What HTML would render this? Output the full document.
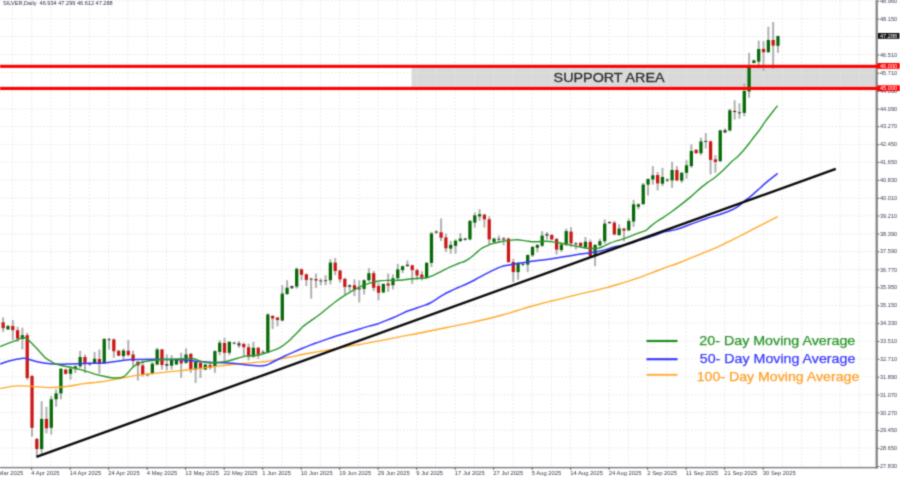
<!DOCTYPE html>
<html><head><meta charset="utf-8"><title>SILVER Daily</title>
<style>
html,body{margin:0;padding:0;background:#fff;}
body{width:900px;height:477px;overflow:hidden;font-family:"Liberation Sans",sans-serif;}
svg{display:block;}
text{font-family:"Liberation Sans",sans-serif;}
</style></head><body>
<svg width="900" height="477" viewBox="0 0 900 477">
<defs><filter id="b" x="0" y="0" width="100%" height="100%" filterUnits="objectBoundingBox" color-interpolation-filters="sRGB"><feConvolveMatrix order="5" kernelMatrix="0.00001 0.00062 0.00227 0.00062 0.00001 0.00062 0.03065 0.11253 0.03065 0.00062 0.00227 0.11253 0.41321 0.11253 0.00227 0.00062 0.03065 0.11253 0.03065 0.00062 0.00001 0.00062 0.00227 0.00062 0.00001" edgeMode="duplicate" preserveAlpha="true"/></filter></defs>
<rect x="0" y="0" width="900" height="477" fill="#ffffff"/>
<g filter="url(#b)">
<rect x="-10" y="-10" width="920" height="497" fill="#ffffff"/>
<g stroke="#e3e3e3" stroke-width="0.9" stroke-dasharray="1.5 2.1" fill="none">
<line x1="0" y1="448.1" x2="876.7" y2="448.1"/>
<line x1="0" y1="430.3" x2="876.7" y2="430.3"/>
<line x1="0" y1="412.6" x2="876.7" y2="412.6"/>
<line x1="0" y1="394.7" x2="876.7" y2="394.7"/>
<line x1="0" y1="376.9" x2="876.7" y2="376.9"/>
<line x1="0" y1="359.0" x2="876.7" y2="359.0"/>
<line x1="0" y1="341.2" x2="876.7" y2="341.2"/>
<line x1="0" y1="323.2" x2="876.7" y2="323.2"/>
<line x1="0" y1="305.5" x2="876.7" y2="305.5"/>
<line x1="0" y1="287.4" x2="876.7" y2="287.4"/>
<line x1="0" y1="269.6" x2="876.7" y2="269.6"/>
<line x1="0" y1="251.5" x2="876.7" y2="251.5"/>
<line x1="0" y1="233.8" x2="876.7" y2="233.8"/>
<line x1="0" y1="215.7" x2="876.7" y2="215.7"/>
<line x1="0" y1="198.0" x2="876.7" y2="198.0"/>
<line x1="0" y1="180.0" x2="876.7" y2="180.0"/>
<line x1="0" y1="162.1" x2="876.7" y2="162.1"/>
<line x1="0" y1="144.4" x2="876.7" y2="144.4"/>
<line x1="0" y1="126.5" x2="876.7" y2="126.5"/>
<line x1="0" y1="108.8" x2="876.7" y2="108.8"/>
<line x1="0" y1="91.0" x2="876.7" y2="91.0"/>
<line x1="0" y1="72.9" x2="876.7" y2="72.9"/>
<line x1="0" y1="54.6" x2="876.7" y2="54.6"/>
<line x1="0" y1="36.5" x2="876.7" y2="36.5"/>
<line x1="0" y1="18.8" x2="876.7" y2="18.8"/>
<line x1="0" y1="0.8" x2="876.7" y2="0.8"/>
<line x1="12.40" y1="0" x2="12.40" y2="467.6"/>
<line x1="31.65" y1="0" x2="31.65" y2="467.6"/>
<line x1="50.90" y1="0" x2="50.90" y2="467.6"/>
<line x1="70.15" y1="0" x2="70.15" y2="467.6"/>
<line x1="89.40" y1="0" x2="89.40" y2="467.6"/>
<line x1="108.65" y1="0" x2="108.65" y2="467.6"/>
<line x1="127.90" y1="0" x2="127.90" y2="467.6"/>
<line x1="147.15" y1="0" x2="147.15" y2="467.6"/>
<line x1="166.40" y1="0" x2="166.40" y2="467.6"/>
<line x1="185.65" y1="0" x2="185.65" y2="467.6"/>
<line x1="204.90" y1="0" x2="204.90" y2="467.6"/>
<line x1="224.15" y1="0" x2="224.15" y2="467.6"/>
<line x1="243.40" y1="0" x2="243.40" y2="467.6"/>
<line x1="262.65" y1="0" x2="262.65" y2="467.6"/>
<line x1="281.90" y1="0" x2="281.90" y2="467.6"/>
<line x1="301.15" y1="0" x2="301.15" y2="467.6"/>
<line x1="320.40" y1="0" x2="320.40" y2="467.6"/>
<line x1="339.65" y1="0" x2="339.65" y2="467.6"/>
<line x1="358.90" y1="0" x2="358.90" y2="467.6"/>
<line x1="378.15" y1="0" x2="378.15" y2="467.6"/>
<line x1="397.40" y1="0" x2="397.40" y2="467.6"/>
<line x1="416.65" y1="0" x2="416.65" y2="467.6"/>
<line x1="435.90" y1="0" x2="435.90" y2="467.6"/>
<line x1="455.15" y1="0" x2="455.15" y2="467.6"/>
<line x1="474.40" y1="0" x2="474.40" y2="467.6"/>
<line x1="493.65" y1="0" x2="493.65" y2="467.6"/>
<line x1="512.90" y1="0" x2="512.90" y2="467.6"/>
<line x1="532.15" y1="0" x2="532.15" y2="467.6"/>
<line x1="551.40" y1="0" x2="551.40" y2="467.6"/>
<line x1="570.65" y1="0" x2="570.65" y2="467.6"/>
<line x1="589.90" y1="0" x2="589.90" y2="467.6"/>
<line x1="609.15" y1="0" x2="609.15" y2="467.6"/>
<line x1="628.40" y1="0" x2="628.40" y2="467.6"/>
<line x1="647.65" y1="0" x2="647.65" y2="467.6"/>
<line x1="666.90" y1="0" x2="666.90" y2="467.6"/>
<line x1="686.15" y1="0" x2="686.15" y2="467.6"/>
<line x1="705.40" y1="0" x2="705.40" y2="467.6"/>
<line x1="724.65" y1="0" x2="724.65" y2="467.6"/>
<line x1="743.90" y1="0" x2="743.90" y2="467.6"/>
<line x1="763.15" y1="0" x2="763.15" y2="467.6"/>
<line x1="782.40" y1="0" x2="782.40" y2="467.6"/>
<line x1="801.65" y1="0" x2="801.65" y2="467.6"/>
<line x1="820.90" y1="0" x2="820.90" y2="467.6"/>
<line x1="840.15" y1="0" x2="840.15" y2="467.6"/>
<line x1="859.40" y1="0" x2="859.40" y2="467.6"/>
</g>
<rect x="411.6" y="67" width="464.6" height="21" fill="#d9d9d9"/>
<g stroke="#e8e8e8" stroke-width="0.9" stroke-dasharray="1.5 2.1" fill="none">
<line x1="416.65" y1="68" x2="416.65" y2="87"/>
<line x1="435.90" y1="68" x2="435.90" y2="87"/>
<line x1="455.15" y1="68" x2="455.15" y2="87"/>
<line x1="474.40" y1="68" x2="474.40" y2="87"/>
<line x1="493.65" y1="68" x2="493.65" y2="87"/>
<line x1="512.90" y1="68" x2="512.90" y2="87"/>
<line x1="532.15" y1="68" x2="532.15" y2="87"/>
<line x1="551.40" y1="68" x2="551.40" y2="87"/>
<line x1="570.65" y1="68" x2="570.65" y2="87"/>
<line x1="589.90" y1="68" x2="589.90" y2="87"/>
<line x1="609.15" y1="68" x2="609.15" y2="87"/>
<line x1="628.40" y1="68" x2="628.40" y2="87"/>
<line x1="647.65" y1="68" x2="647.65" y2="87"/>
<line x1="666.90" y1="68" x2="666.90" y2="87"/>
<line x1="686.15" y1="68" x2="686.15" y2="87"/>
<line x1="705.40" y1="68" x2="705.40" y2="87"/>
<line x1="724.65" y1="68" x2="724.65" y2="87"/>
<line x1="743.90" y1="68" x2="743.90" y2="87"/>
<line x1="763.15" y1="68" x2="763.15" y2="87"/>
<line x1="782.40" y1="68" x2="782.40" y2="87"/>
<line x1="801.65" y1="68" x2="801.65" y2="87"/>
<line x1="820.90" y1="68" x2="820.90" y2="87"/>
<line x1="840.15" y1="68" x2="840.15" y2="87"/>
<line x1="859.40" y1="68" x2="859.40" y2="87"/>
<line x1="412" y1="72.9" x2="876.7" y2="72.9"/>
</g>
<g>
<line x1="3.15" y1="317.3" x2="3.15" y2="332.2" stroke="#b0b0b0" stroke-width="2.0"/><rect x="1.52" y="322.3" width="3.25" height="5.9" fill="#cc1414"/>
<line x1="7.96" y1="325.0" x2="7.96" y2="330.0" stroke="#b0b0b0" stroke-width="2.0"/><rect x="6.34" y="326.0" width="3.25" height="3.4" fill="#046804"/>
<line x1="12.78" y1="320.0" x2="12.78" y2="340.0" stroke="#b0b0b0" stroke-width="2.0"/><rect x="11.15" y="326.0" width="3.25" height="4.2" fill="#cc1414"/>
<line x1="17.59" y1="326.8" x2="17.59" y2="342.0" stroke="#b0b0b0" stroke-width="2.0"/><rect x="15.96" y="330.2" width="3.25" height="8.4" fill="#cc1414"/>
<line x1="22.40" y1="327.7" x2="22.40" y2="349.5" stroke="#b0b0b0" stroke-width="2.0"/><rect x="20.77" y="335.2" width="3.25" height="3.8" fill="#046804"/>
<line x1="27.21" y1="332.7" x2="27.21" y2="380.0" stroke="#b0b0b0" stroke-width="2.0"/><rect x="25.59" y="335.2" width="3.25" height="42.8" fill="#cc1414"/>
<line x1="32.02" y1="375.0" x2="32.02" y2="436.7" stroke="#b0b0b0" stroke-width="2.0"/><rect x="30.40" y="376.0" width="3.25" height="51.8" fill="#cc1414"/>
<line x1="36.84" y1="437.9" x2="36.84" y2="456.3" stroke="#b0b0b0" stroke-width="2.0"/><rect x="35.21" y="439.0" width="3.25" height="10.1" fill="#cc1414"/>
<line x1="41.65" y1="401.3" x2="41.65" y2="453.8" stroke="#b0b0b0" stroke-width="2.0"/><rect x="40.02" y="418.9" width="3.25" height="30.2" fill="#046804"/>
<line x1="46.46" y1="406.8" x2="46.46" y2="433.4" stroke="#b0b0b0" stroke-width="2.0"/><rect x="44.84" y="418.9" width="3.25" height="9.4" fill="#cc1414"/>
<line x1="51.27" y1="396.0" x2="51.27" y2="434.5" stroke="#b0b0b0" stroke-width="2.0"/><rect x="49.65" y="399.3" width="3.25" height="28.5" fill="#046804"/>
<line x1="56.09" y1="389.2" x2="56.09" y2="406.8" stroke="#b0b0b0" stroke-width="2.0"/><rect x="54.46" y="393.4" width="3.25" height="5.9" fill="#046804"/>
<line x1="60.90" y1="368.0" x2="60.90" y2="399.3" stroke="#b0b0b0" stroke-width="2.0"/><rect x="59.27" y="368.8" width="3.25" height="24.6" fill="#046804"/>
<line x1="65.71" y1="368.8" x2="65.71" y2="374.6" stroke="#b0b0b0" stroke-width="2.0"/><rect x="64.09" y="369.6" width="3.25" height="4.2" fill="#cc1414"/>
<line x1="70.53" y1="366.3" x2="70.53" y2="379.7" stroke="#b0b0b0" stroke-width="2.0"/><rect x="68.90" y="368.8" width="3.25" height="5.0" fill="#046804"/>
<line x1="75.34" y1="365.4" x2="75.34" y2="373.0" stroke="#b0b0b0" stroke-width="2.0"/><rect x="73.71" y="366.3" width="3.25" height="2.8" fill="#046804"/>
<line x1="80.15" y1="350.8" x2="80.15" y2="368.0" stroke="#b0b0b0" stroke-width="2.0"/><rect x="78.53" y="357.0" width="3.25" height="9.3" fill="#046804"/>
<line x1="84.96" y1="354.5" x2="84.96" y2="373.0" stroke="#b0b0b0" stroke-width="2.0"/><rect x="83.34" y="357.0" width="3.25" height="5.9" fill="#cc1414"/>
<line x1="89.78" y1="362.0" x2="89.78" y2="365.8" stroke="#b0b0b0" stroke-width="2.0"/><rect x="88.23" y="363.3" width="3.1" height="1.2" fill="#3c463c"/>
<line x1="94.59" y1="352.0" x2="94.59" y2="363.8" stroke="#b0b0b0" stroke-width="2.0"/><rect x="92.96" y="358.7" width="3.25" height="4.2" fill="#046804"/>
<line x1="99.40" y1="349.5" x2="99.40" y2="373.8" stroke="#b0b0b0" stroke-width="2.0"/><rect x="97.78" y="359.0" width="3.25" height="4.4" fill="#cc1414"/>
<line x1="104.21" y1="338.3" x2="104.21" y2="363.8" stroke="#b0b0b0" stroke-width="2.0"/><rect x="102.59" y="338.9" width="3.25" height="24.5" fill="#046804"/>
<line x1="109.03" y1="337.8" x2="109.03" y2="349.5" stroke="#b0b0b0" stroke-width="2.0"/><rect x="107.48" y="339.2" width="3.1" height="1.0" fill="#3c463c"/>
<line x1="113.84" y1="338.6" x2="113.84" y2="357.9" stroke="#b0b0b0" stroke-width="2.0"/><rect x="112.21" y="339.4" width="3.25" height="11.8" fill="#cc1414"/>
<line x1="118.65" y1="350.3" x2="118.65" y2="356.2" stroke="#b0b0b0" stroke-width="2.0"/><rect x="117.03" y="350.7" width="3.25" height="5.0" fill="#cc1414"/>
<line x1="123.46" y1="348.6" x2="123.46" y2="360.3" stroke="#b0b0b0" stroke-width="2.0"/><rect x="121.84" y="350.5" width="3.25" height="5.6" fill="#046804"/>
<line x1="128.28" y1="340.2" x2="128.28" y2="356.5" stroke="#b0b0b0" stroke-width="2.0"/><rect x="126.65" y="350.8" width="3.25" height="4.2" fill="#cc1414"/>
<line x1="133.09" y1="350.6" x2="133.09" y2="367.5" stroke="#b0b0b0" stroke-width="2.0"/><rect x="131.46" y="354.5" width="3.25" height="6.5" fill="#cc1414"/>
<line x1="137.90" y1="360.8" x2="137.90" y2="380.5" stroke="#b0b0b0" stroke-width="2.0"/><rect x="136.28" y="361.8" width="3.25" height="3.6" fill="#cc1414"/>
<line x1="142.71" y1="360.3" x2="142.71" y2="376.6" stroke="#b0b0b0" stroke-width="2.0"/><rect x="141.09" y="365.4" width="3.25" height="8.8" fill="#cc1414"/>
<line x1="147.53" y1="373.4" x2="147.53" y2="376.3" stroke="#b0b0b0" stroke-width="2.0"/><rect x="145.97" y="374.3" width="3.1" height="1.0" fill="#3c463c"/>
<line x1="152.34" y1="362.0" x2="152.34" y2="374.6" stroke="#b0b0b0" stroke-width="2.0"/><rect x="150.71" y="363.7" width="3.25" height="10.1" fill="#046804"/>
<line x1="157.15" y1="347.8" x2="157.15" y2="365.4" stroke="#b0b0b0" stroke-width="2.0"/><rect x="155.53" y="349.4" width="3.25" height="15.1" fill="#046804"/>
<line x1="161.96" y1="349.0" x2="161.96" y2="369.6" stroke="#b0b0b0" stroke-width="2.0"/><rect x="160.34" y="349.4" width="3.25" height="15.6" fill="#cc1414"/>
<line x1="166.78" y1="354.5" x2="166.78" y2="370.4" stroke="#b0b0b0" stroke-width="2.0"/><rect x="165.22" y="364.0" width="3.1" height="1.7" fill="#3c463c"/>
<line x1="171.59" y1="355.3" x2="171.59" y2="369.6" stroke="#b0b0b0" stroke-width="2.0"/><rect x="169.96" y="359.5" width="3.25" height="6.2" fill="#046804"/>
<line x1="176.40" y1="358.7" x2="176.40" y2="365.0" stroke="#b0b0b0" stroke-width="2.0"/><rect x="174.78" y="359.5" width="3.25" height="5.0" fill="#046804"/>
<line x1="181.21" y1="352.8" x2="181.21" y2="378.0" stroke="#b0b0b0" stroke-width="2.0"/><rect x="179.59" y="360.3" width="3.25" height="3.1" fill="#cc1414"/>
<line x1="186.03" y1="348.3" x2="186.03" y2="363.7" stroke="#b0b0b0" stroke-width="2.0"/><rect x="184.40" y="354.5" width="3.25" height="8.4" fill="#046804"/>
<line x1="190.84" y1="352.8" x2="190.84" y2="372.9" stroke="#b0b0b0" stroke-width="2.0"/><rect x="189.21" y="354.0" width="3.25" height="15.6" fill="#cc1414"/>
<line x1="195.65" y1="361.2" x2="195.65" y2="383.0" stroke="#b0b0b0" stroke-width="2.0"/><rect x="194.03" y="362.0" width="3.25" height="7.6" fill="#046804"/>
<line x1="200.46" y1="362.0" x2="200.46" y2="378.0" stroke="#b0b0b0" stroke-width="2.0"/><rect x="198.84" y="362.9" width="3.25" height="5.8" fill="#cc1414"/>
<line x1="205.28" y1="363.7" x2="205.28" y2="370.0" stroke="#b0b0b0" stroke-width="2.0"/><rect x="203.65" y="364.5" width="3.25" height="5.1" fill="#046804"/>
<line x1="210.09" y1="361.7" x2="210.09" y2="369.6" stroke="#b0b0b0" stroke-width="2.0"/><rect x="208.46" y="365.0" width="3.25" height="2.9" fill="#cc1414"/>
<line x1="214.90" y1="350.3" x2="214.90" y2="372.9" stroke="#b0b0b0" stroke-width="2.0"/><rect x="213.28" y="351.1" width="3.25" height="15.9" fill="#046804"/>
<line x1="219.71" y1="340.2" x2="219.71" y2="355.3" stroke="#b0b0b0" stroke-width="2.0"/><rect x="218.09" y="342.7" width="3.25" height="9.2" fill="#046804"/>
<line x1="224.53" y1="337.7" x2="224.53" y2="361.2" stroke="#b0b0b0" stroke-width="2.0"/><rect x="222.90" y="343.0" width="3.25" height="9.8" fill="#cc1414"/>
<line x1="229.34" y1="341.0" x2="229.34" y2="355.3" stroke="#b0b0b0" stroke-width="2.0"/><rect x="227.71" y="341.9" width="3.25" height="10.9" fill="#046804"/>
<line x1="234.15" y1="341.9" x2="234.15" y2="344.4" stroke="#b0b0b0" stroke-width="2.0"/><rect x="232.60" y="342.6" width="3.1" height="1.0" fill="#3c463c"/>
<line x1="238.96" y1="341.0" x2="238.96" y2="347.8" stroke="#b0b0b0" stroke-width="2.0"/><rect x="237.41" y="343.2" width="3.1" height="2.4" fill="#3c463c"/>
<line x1="243.78" y1="342.7" x2="243.78" y2="356.1" stroke="#b0b0b0" stroke-width="2.0"/><rect x="242.15" y="344.0" width="3.25" height="3.2" fill="#cc1414"/>
<line x1="248.59" y1="343.6" x2="248.59" y2="360.3" stroke="#b0b0b0" stroke-width="2.0"/><rect x="246.96" y="347.2" width="3.25" height="9.4" fill="#cc1414"/>
<line x1="253.40" y1="341.9" x2="253.40" y2="357.8" stroke="#b0b0b0" stroke-width="2.0"/><rect x="251.78" y="347.8" width="3.25" height="8.8" fill="#046804"/>
<line x1="258.21" y1="346.9" x2="258.21" y2="358.7" stroke="#b0b0b0" stroke-width="2.0"/><rect x="256.59" y="347.8" width="3.25" height="6.7" fill="#cc1414"/>
<line x1="263.02" y1="350.3" x2="263.02" y2="353.6" stroke="#b0b0b0" stroke-width="2.0"/><rect x="261.47" y="351.8" width="3.1" height="1.0" fill="#3c463c"/>
<line x1="267.84" y1="313.4" x2="267.84" y2="353.3" stroke="#b0b0b0" stroke-width="2.0"/><rect x="266.21" y="314.4" width="3.25" height="38.4" fill="#046804"/>
<line x1="272.65" y1="315.0" x2="272.65" y2="329.0" stroke="#b0b0b0" stroke-width="2.0"/><rect x="271.02" y="316.0" width="3.25" height="2.5" fill="#cc1414"/>
<line x1="277.46" y1="316.8" x2="277.46" y2="326.3" stroke="#b0b0b0" stroke-width="2.0"/><rect x="275.84" y="317.6" width="3.25" height="2.4" fill="#cc1414"/>
<line x1="282.27" y1="285.2" x2="282.27" y2="321.3" stroke="#b0b0b0" stroke-width="2.0"/><rect x="280.65" y="293.6" width="3.25" height="26.9" fill="#046804"/>
<line x1="287.09" y1="280.2" x2="287.09" y2="295.0" stroke="#b0b0b0" stroke-width="2.0"/><rect x="285.46" y="287.8" width="3.25" height="6.2" fill="#046804"/>
<line x1="291.90" y1="285.6" x2="291.90" y2="288.6" stroke="#b0b0b0" stroke-width="2.0"/><rect x="290.35" y="286.0" width="3.1" height="2.3" fill="#3c463c"/>
<line x1="296.71" y1="267.6" x2="296.71" y2="288.6" stroke="#b0b0b0" stroke-width="2.0"/><rect x="295.09" y="268.8" width="3.25" height="17.8" fill="#046804"/>
<line x1="301.52" y1="268.5" x2="301.52" y2="280.2" stroke="#b0b0b0" stroke-width="2.0"/><rect x="299.90" y="269.3" width="3.25" height="5.5" fill="#cc1414"/>
<line x1="306.34" y1="273.5" x2="306.34" y2="286.0" stroke="#b0b0b0" stroke-width="2.0"/><rect x="304.71" y="274.3" width="3.25" height="5.6" fill="#cc1414"/>
<line x1="311.15" y1="277.7" x2="311.15" y2="298.7" stroke="#b0b0b0" stroke-width="2.0"/><rect x="309.60" y="278.6" width="3.1" height="1.0" fill="#3c463c"/>
<line x1="315.96" y1="273.5" x2="315.96" y2="287.8" stroke="#b0b0b0" stroke-width="2.0"/><rect x="314.34" y="279.0" width="3.25" height="1.5" fill="#cc1414"/>
<line x1="320.77" y1="278.5" x2="320.77" y2="285.2" stroke="#b0b0b0" stroke-width="2.0"/><rect x="319.22" y="280.4" width="3.1" height="1.0" fill="#3c463c"/>
<line x1="325.59" y1="275.2" x2="325.59" y2="285.2" stroke="#b0b0b0" stroke-width="2.0"/><rect x="324.04" y="280.2" width="3.1" height="1.0" fill="#3c463c"/>
<line x1="330.40" y1="259.2" x2="330.40" y2="284.4" stroke="#b0b0b0" stroke-width="2.0"/><rect x="328.77" y="262.6" width="3.25" height="17.6" fill="#046804"/>
<line x1="335.21" y1="258.0" x2="335.21" y2="275.2" stroke="#b0b0b0" stroke-width="2.0"/><rect x="333.59" y="262.6" width="3.25" height="8.4" fill="#cc1414"/>
<line x1="340.02" y1="269.8" x2="340.02" y2="282.7" stroke="#b0b0b0" stroke-width="2.0"/><rect x="338.40" y="270.5" width="3.25" height="8.9" fill="#cc1414"/>
<line x1="344.84" y1="277.7" x2="344.84" y2="294.5" stroke="#b0b0b0" stroke-width="2.0"/><rect x="343.21" y="278.9" width="3.25" height="8.0" fill="#cc1414"/>
<line x1="349.65" y1="284.4" x2="349.65" y2="291.1" stroke="#b0b0b0" stroke-width="2.0"/><rect x="348.10" y="285.2" width="3.1" height="1.7" fill="#3c463c"/>
<line x1="354.46" y1="279.4" x2="354.46" y2="296.1" stroke="#b0b0b0" stroke-width="2.0"/><rect x="352.84" y="285.2" width="3.25" height="4.2" fill="#cc1414"/>
<line x1="359.27" y1="280.2" x2="359.27" y2="302.3" stroke="#b0b0b0" stroke-width="2.0"/><rect x="357.72" y="288.3" width="3.1" height="1.2" fill="#3c463c"/>
<line x1="364.09" y1="279.4" x2="364.09" y2="294.5" stroke="#b0b0b0" stroke-width="2.0"/><rect x="362.46" y="280.2" width="3.25" height="8.7" fill="#046804"/>
<line x1="368.90" y1="268.1" x2="368.90" y2="281.9" stroke="#b0b0b0" stroke-width="2.0"/><rect x="367.27" y="273.2" width="3.25" height="7.0" fill="#046804"/>
<line x1="373.71" y1="271.0" x2="373.71" y2="291.1" stroke="#b0b0b0" stroke-width="2.0"/><rect x="372.09" y="273.2" width="3.25" height="14.6" fill="#cc1414"/>
<line x1="378.52" y1="282.7" x2="378.52" y2="300.3" stroke="#b0b0b0" stroke-width="2.0"/><rect x="376.90" y="286.0" width="3.25" height="6.8" fill="#cc1414"/>
<line x1="383.34" y1="283.2" x2="383.34" y2="293.3" stroke="#b0b0b0" stroke-width="2.0"/><rect x="381.71" y="284.0" width="3.25" height="8.4" fill="#046804"/>
<line x1="388.15" y1="273.5" x2="388.15" y2="292.0" stroke="#b0b0b0" stroke-width="2.0"/><rect x="386.52" y="283.6" width="3.25" height="2.0" fill="#cc1414"/>
<line x1="392.96" y1="274.3" x2="392.96" y2="289.4" stroke="#b0b0b0" stroke-width="2.0"/><rect x="391.34" y="278.2" width="3.25" height="7.0" fill="#046804"/>
<line x1="397.77" y1="264.0" x2="397.77" y2="280.0" stroke="#b0b0b0" stroke-width="2.0"/><rect x="396.15" y="269.4" width="3.25" height="8.8" fill="#046804"/>
<line x1="402.59" y1="265.4" x2="402.59" y2="273.0" stroke="#b0b0b0" stroke-width="2.0"/><rect x="400.96" y="266.2" width="3.25" height="3.9" fill="#046804"/>
<line x1="407.40" y1="260.4" x2="407.40" y2="266.7" stroke="#b0b0b0" stroke-width="2.0"/><rect x="405.85" y="264.6" width="3.1" height="1.6" fill="#3c463c"/>
<line x1="412.21" y1="264.6" x2="412.21" y2="283.9" stroke="#b0b0b0" stroke-width="2.0"/><rect x="410.59" y="265.4" width="3.25" height="4.7" fill="#cc1414"/>
<line x1="417.02" y1="268.8" x2="417.02" y2="279.7" stroke="#b0b0b0" stroke-width="2.0"/><rect x="415.40" y="270.1" width="3.25" height="5.4" fill="#cc1414"/>
<line x1="421.84" y1="271.3" x2="421.84" y2="280.5" stroke="#b0b0b0" stroke-width="2.0"/><rect x="420.21" y="274.6" width="3.25" height="2.9" fill="#cc1414"/>
<line x1="426.65" y1="262.0" x2="426.65" y2="278.8" stroke="#b0b0b0" stroke-width="2.0"/><rect x="425.02" y="262.9" width="3.25" height="15.1" fill="#046804"/>
<line x1="431.46" y1="231.8" x2="431.46" y2="267.1" stroke="#b0b0b0" stroke-width="2.0"/><rect x="429.84" y="233.5" width="3.25" height="29.4" fill="#046804"/>
<line x1="436.27" y1="230.2" x2="436.27" y2="233.9" stroke="#b0b0b0" stroke-width="2.0"/><rect x="434.72" y="231.5" width="3.1" height="1.1" fill="#3c463c"/>
<line x1="441.09" y1="218.4" x2="441.09" y2="241.0" stroke="#b0b0b0" stroke-width="2.0"/><rect x="439.46" y="232.3" width="3.25" height="5.4" fill="#cc1414"/>
<line x1="445.90" y1="233.5" x2="445.90" y2="252.0" stroke="#b0b0b0" stroke-width="2.0"/><rect x="444.27" y="237.4" width="3.25" height="10.9" fill="#cc1414"/>
<line x1="450.71" y1="241.0" x2="450.71" y2="253.7" stroke="#b0b0b0" stroke-width="2.0"/><rect x="449.09" y="244.9" width="3.25" height="3.7" fill="#046804"/>
<line x1="455.52" y1="239.4" x2="455.52" y2="253.7" stroke="#b0b0b0" stroke-width="2.0"/><rect x="453.90" y="240.7" width="3.25" height="5.1" fill="#046804"/>
<line x1="460.34" y1="233.2" x2="460.34" y2="242.2" stroke="#b0b0b0" stroke-width="2.0"/><rect x="458.71" y="238.6" width="3.25" height="2.4" fill="#046804"/>
<line x1="465.15" y1="237.7" x2="465.15" y2="240.6" stroke="#b0b0b0" stroke-width="2.0"/><rect x="463.60" y="238.6" width="3.1" height="1.3" fill="#3c463c"/>
<line x1="469.96" y1="220.0" x2="469.96" y2="240.2" stroke="#b0b0b0" stroke-width="2.0"/><rect x="468.34" y="220.9" width="3.25" height="18.5" fill="#046804"/>
<line x1="474.77" y1="212.5" x2="474.77" y2="227.6" stroke="#b0b0b0" stroke-width="2.0"/><rect x="473.15" y="215.4" width="3.25" height="7.2" fill="#046804"/>
<line x1="479.59" y1="209.2" x2="479.59" y2="220.9" stroke="#b0b0b0" stroke-width="2.0"/><rect x="477.96" y="214.2" width="3.25" height="2.2" fill="#046804"/>
<line x1="484.40" y1="213.7" x2="484.40" y2="227.6" stroke="#b0b0b0" stroke-width="2.0"/><rect x="482.77" y="214.7" width="3.25" height="4.6" fill="#cc1414"/>
<line x1="489.21" y1="216.4" x2="489.21" y2="244.4" stroke="#b0b0b0" stroke-width="2.0"/><rect x="487.59" y="219.3" width="3.25" height="20.1" fill="#cc1414"/>
<line x1="494.02" y1="237.7" x2="494.02" y2="243.2" stroke="#b0b0b0" stroke-width="2.0"/><rect x="492.40" y="238.6" width="3.25" height="3.3" fill="#046804"/>
<line x1="498.84" y1="235.5" x2="498.84" y2="242.7" stroke="#b0b0b0" stroke-width="2.0"/><rect x="497.29" y="238.7" width="3.1" height="1.0" fill="#3c463c"/>
<line x1="503.65" y1="236.9" x2="503.65" y2="245.3" stroke="#b0b0b0" stroke-width="2.0"/><rect x="502.10" y="238.5" width="3.1" height="1.1" fill="#3c463c"/>
<line x1="508.46" y1="237.7" x2="508.46" y2="262.9" stroke="#b0b0b0" stroke-width="2.0"/><rect x="506.84" y="238.6" width="3.25" height="23.4" fill="#cc1414"/>
<line x1="513.27" y1="258.7" x2="513.27" y2="282.2" stroke="#b0b0b0" stroke-width="2.0"/><rect x="511.65" y="262.0" width="3.25" height="10.1" fill="#cc1414"/>
<line x1="518.09" y1="262.0" x2="518.09" y2="279.7" stroke="#b0b0b0" stroke-width="2.0"/><rect x="516.46" y="262.9" width="3.25" height="9.2" fill="#046804"/>
<line x1="522.90" y1="262.0" x2="522.90" y2="266.2" stroke="#b0b0b0" stroke-width="2.0"/><rect x="521.35" y="263.7" width="3.1" height="1.1" fill="#3c463c"/>
<line x1="527.71" y1="254.5" x2="527.71" y2="272.1" stroke="#b0b0b0" stroke-width="2.0"/><rect x="526.09" y="255.0" width="3.25" height="9.6" fill="#046804"/>
<line x1="532.52" y1="246.1" x2="532.52" y2="256.9" stroke="#b0b0b0" stroke-width="2.0"/><rect x="530.90" y="246.9" width="3.25" height="8.4" fill="#046804"/>
<line x1="537.34" y1="244.0" x2="537.34" y2="252.4" stroke="#b0b0b0" stroke-width="2.0"/><rect x="535.71" y="245.0" width="3.25" height="2.8" fill="#046804"/>
<line x1="542.15" y1="231.1" x2="542.15" y2="247.0" stroke="#b0b0b0" stroke-width="2.0"/><rect x="540.52" y="235.6" width="3.25" height="10.1" fill="#046804"/>
<line x1="546.96" y1="232.0" x2="546.96" y2="239.5" stroke="#b0b0b0" stroke-width="2.0"/><rect x="545.41" y="234.0" width="3.1" height="1.6" fill="#3c463c"/>
<line x1="551.77" y1="234.0" x2="551.77" y2="240.3" stroke="#b0b0b0" stroke-width="2.0"/><rect x="550.15" y="235.0" width="3.25" height="4.5" fill="#cc1414"/>
<line x1="556.59" y1="237.8" x2="556.59" y2="254.6" stroke="#b0b0b0" stroke-width="2.0"/><rect x="554.96" y="239.0" width="3.25" height="10.6" fill="#cc1414"/>
<line x1="561.40" y1="243.7" x2="561.40" y2="252.1" stroke="#b0b0b0" stroke-width="2.0"/><rect x="559.77" y="244.5" width="3.25" height="5.5" fill="#046804"/>
<line x1="566.21" y1="228.6" x2="566.21" y2="246.2" stroke="#b0b0b0" stroke-width="2.0"/><rect x="564.59" y="231.1" width="3.25" height="13.9" fill="#046804"/>
<line x1="571.02" y1="227.2" x2="571.02" y2="247.0" stroke="#b0b0b0" stroke-width="2.0"/><rect x="569.40" y="231.6" width="3.25" height="11.8" fill="#cc1414"/>
<line x1="575.84" y1="242.0" x2="575.84" y2="249.6" stroke="#b0b0b0" stroke-width="2.0"/><rect x="574.29" y="243.4" width="3.1" height="1.1" fill="#3c463c"/>
<line x1="580.65" y1="242.0" x2="580.65" y2="247.0" stroke="#b0b0b0" stroke-width="2.0"/><rect x="579.02" y="242.9" width="3.25" height="3.3" fill="#cc1414"/>
<line x1="585.46" y1="237.0" x2="585.46" y2="247.9" stroke="#b0b0b0" stroke-width="2.0"/><rect x="583.84" y="241.7" width="3.25" height="5.3" fill="#046804"/>
<line x1="590.27" y1="239.5" x2="590.27" y2="257.1" stroke="#b0b0b0" stroke-width="2.0"/><rect x="588.65" y="242.0" width="3.25" height="14.3" fill="#cc1414"/>
<line x1="595.09" y1="244.0" x2="595.09" y2="266.3" stroke="#b0b0b0" stroke-width="2.0"/><rect x="593.46" y="245.0" width="3.25" height="9.6" fill="#046804"/>
<line x1="599.90" y1="238.7" x2="599.90" y2="246.2" stroke="#b0b0b0" stroke-width="2.0"/><rect x="598.27" y="241.2" width="3.25" height="4.2" fill="#046804"/>
<line x1="604.71" y1="219.4" x2="604.71" y2="243.7" stroke="#b0b0b0" stroke-width="2.0"/><rect x="603.09" y="223.6" width="3.25" height="17.6" fill="#046804"/>
<line x1="609.52" y1="221.5" x2="609.52" y2="223.6" stroke="#b0b0b0" stroke-width="2.0"/><rect x="607.98" y="221.9" width="3.1" height="1.3" fill="#3c463c"/>
<line x1="614.34" y1="221.0" x2="614.34" y2="235.3" stroke="#b0b0b0" stroke-width="2.0"/><rect x="612.71" y="222.7" width="3.25" height="11.8" fill="#cc1414"/>
<line x1="619.15" y1="224.4" x2="619.15" y2="236.1" stroke="#b0b0b0" stroke-width="2.0"/><rect x="617.52" y="228.6" width="3.25" height="6.4" fill="#046804"/>
<line x1="623.96" y1="227.8" x2="623.96" y2="241.2" stroke="#b0b0b0" stroke-width="2.0"/><rect x="622.34" y="228.6" width="3.25" height="2.0" fill="#cc1414"/>
<line x1="628.77" y1="218.5" x2="628.77" y2="231.1" stroke="#b0b0b0" stroke-width="2.0"/><rect x="627.15" y="221.0" width="3.25" height="9.3" fill="#046804"/>
<line x1="633.59" y1="200.0" x2="633.59" y2="226.9" stroke="#b0b0b0" stroke-width="2.0"/><rect x="631.96" y="204.3" width="3.25" height="17.2" fill="#046804"/>
<line x1="638.40" y1="203.4" x2="638.40" y2="209.3" stroke="#b0b0b0" stroke-width="2.0"/><rect x="636.77" y="204.3" width="3.25" height="2.5" fill="#046804"/>
<line x1="643.21" y1="182.9" x2="643.21" y2="205.0" stroke="#b0b0b0" stroke-width="2.0"/><rect x="641.59" y="184.6" width="3.25" height="19.5" fill="#046804"/>
<line x1="648.02" y1="178.4" x2="648.02" y2="195.5" stroke="#b0b0b0" stroke-width="2.0"/><rect x="646.40" y="179.0" width="3.25" height="5.6" fill="#046804"/>
<line x1="652.84" y1="166.1" x2="652.84" y2="184.6" stroke="#b0b0b0" stroke-width="2.0"/><rect x="651.21" y="175.3" width="3.25" height="4.2" fill="#046804"/>
<line x1="657.65" y1="172.0" x2="657.65" y2="190.4" stroke="#b0b0b0" stroke-width="2.0"/><rect x="656.02" y="175.0" width="3.25" height="8.4" fill="#cc1414"/>
<line x1="662.46" y1="167.8" x2="662.46" y2="186.2" stroke="#b0b0b0" stroke-width="2.0"/><rect x="660.84" y="177.0" width="3.25" height="6.7" fill="#046804"/>
<line x1="667.27" y1="178.4" x2="667.27" y2="182.0" stroke="#b0b0b0" stroke-width="2.0"/><rect x="665.73" y="179.5" width="3.1" height="1.1" fill="#3c463c"/>
<line x1="672.09" y1="161.9" x2="672.09" y2="187.9" stroke="#b0b0b0" stroke-width="2.0"/><rect x="670.46" y="170.0" width="3.25" height="10.4" fill="#046804"/>
<line x1="676.90" y1="166.1" x2="676.90" y2="181.2" stroke="#b0b0b0" stroke-width="2.0"/><rect x="675.27" y="170.0" width="3.25" height="10.4" fill="#cc1414"/>
<line x1="681.71" y1="172.0" x2="681.71" y2="182.9" stroke="#b0b0b0" stroke-width="2.0"/><rect x="680.09" y="172.8" width="3.25" height="7.9" fill="#046804"/>
<line x1="686.52" y1="160.2" x2="686.52" y2="178.7" stroke="#b0b0b0" stroke-width="2.0"/><rect x="684.90" y="165.3" width="3.25" height="7.5" fill="#046804"/>
<line x1="691.34" y1="144.3" x2="691.34" y2="167.8" stroke="#b0b0b0" stroke-width="2.0"/><rect x="689.71" y="151.0" width="3.25" height="15.1" fill="#046804"/>
<line x1="696.15" y1="149.3" x2="696.15" y2="153.7" stroke="#b0b0b0" stroke-width="2.0"/><rect x="694.52" y="149.8" width="3.25" height="3.4" fill="#cc1414"/>
<line x1="700.96" y1="137.6" x2="700.96" y2="155.2" stroke="#b0b0b0" stroke-width="2.0"/><rect x="699.34" y="141.4" width="3.25" height="11.8" fill="#046804"/>
<line x1="705.77" y1="133.0" x2="705.77" y2="148.5" stroke="#b0b0b0" stroke-width="2.0"/><rect x="704.23" y="140.9" width="3.1" height="1.1" fill="#3c463c"/>
<line x1="710.59" y1="140.4" x2="710.59" y2="174.5" stroke="#b0b0b0" stroke-width="2.0"/><rect x="708.96" y="141.4" width="3.25" height="18.5" fill="#cc1414"/>
<line x1="715.40" y1="155.2" x2="715.40" y2="172.8" stroke="#b0b0b0" stroke-width="2.0"/><rect x="713.77" y="159.4" width="3.25" height="2.5" fill="#cc1414"/>
<line x1="720.21" y1="129.7" x2="720.21" y2="162.2" stroke="#b0b0b0" stroke-width="2.0"/><rect x="718.59" y="130.4" width="3.25" height="30.7" fill="#046804"/>
<line x1="725.02" y1="128.4" x2="725.02" y2="133.0" stroke="#b0b0b0" stroke-width="2.0"/><rect x="723.48" y="130.0" width="3.1" height="2.6" fill="#3c463c"/>
<line x1="729.84" y1="108.7" x2="729.84" y2="131.3" stroke="#b0b0b0" stroke-width="2.0"/><rect x="728.21" y="110.3" width="3.25" height="20.2" fill="#046804"/>
<line x1="734.65" y1="100.3" x2="734.65" y2="119.6" stroke="#b0b0b0" stroke-width="2.0"/><rect x="733.10" y="110.9" width="3.1" height="1.1" fill="#7a1414"/>
<line x1="739.46" y1="103.3" x2="739.46" y2="118.7" stroke="#b0b0b0" stroke-width="2.0"/><rect x="737.91" y="112.2" width="3.1" height="1.1" fill="#3c463c"/>
<line x1="744.27" y1="83.5" x2="744.27" y2="116.2" stroke="#b0b0b0" stroke-width="2.0"/><rect x="742.65" y="91.0" width="3.25" height="21.9" fill="#046804"/>
<line x1="749.09" y1="52.8" x2="749.09" y2="97.8" stroke="#b0b0b0" stroke-width="2.0"/><rect x="747.46" y="65.9" width="3.25" height="25.5" fill="#046804"/>
<line x1="753.90" y1="59.6" x2="753.90" y2="63.4" stroke="#b0b0b0" stroke-width="2.0"/><rect x="752.27" y="60.4" width="3.25" height="2.6" fill="#046804"/>
<line x1="758.71" y1="40.6" x2="758.71" y2="68.4" stroke="#b0b0b0" stroke-width="2.0"/><rect x="757.09" y="49.0" width="3.25" height="12.7" fill="#046804"/>
<line x1="763.52" y1="41.1" x2="763.52" y2="71.0" stroke="#b0b0b0" stroke-width="2.0"/><rect x="761.90" y="48.9" width="3.25" height="3.3" fill="#cc1414"/>
<line x1="768.34" y1="26.7" x2="768.34" y2="52.8" stroke="#b0b0b0" stroke-width="2.0"/><rect x="766.71" y="40.0" width="3.25" height="12.2" fill="#046804"/>
<line x1="773.15" y1="22.0" x2="773.15" y2="68.8" stroke="#b0b0b0" stroke-width="2.0"/><rect x="771.52" y="40.0" width="3.25" height="5.6" fill="#cc1414"/>
<line x1="777.96" y1="35.6" x2="777.96" y2="52.8" stroke="#b0b0b0" stroke-width="2.0"/><rect x="776.34" y="36.1" width="3.25" height="9.7" fill="#046804"/>
</g>
<path d="M0.0,388.4 C2.8,388.0 11.5,386.2 16.8,385.9 C22.1,385.6 26.3,386.1 31.9,386.4 C37.5,386.7 44.4,387.6 50.3,387.6 C56.2,387.6 61.5,387.0 67.1,386.4 C72.7,385.8 77.8,384.5 83.9,383.7 C90.1,382.9 98.0,382.2 104.0,381.3 C110.0,380.4 114.5,379.5 120.0,378.5 C125.5,377.5 131.2,376.2 136.8,375.4 C142.4,374.5 148.0,374.0 153.6,373.4 C159.2,372.8 164.7,372.3 170.3,371.7 C175.9,371.1 181.5,370.6 187.1,370.0 C192.7,369.4 198.3,368.6 203.9,367.9 C209.5,367.2 215.1,366.5 220.7,365.9 C226.3,365.2 231.8,364.6 237.4,364.0 C243.0,363.4 249.3,362.9 254.2,362.5 C259.1,362.1 263.2,361.9 266.7,361.5 C270.2,361.1 270.6,360.9 275.1,360.0 C279.6,359.1 287.7,357.5 293.6,356.3 C299.5,355.1 304.7,354.0 310.3,353.0 C315.9,352.0 321.5,351.1 327.1,350.1 C332.7,349.1 338.3,348.1 343.9,347.1 C349.5,346.1 355.1,345.3 360.7,344.3 C366.3,343.3 371.8,342.3 377.4,341.2 C383.0,340.1 388.8,338.9 394.2,337.9 C399.6,336.8 404.0,336.0 410.0,334.9 C416.0,333.8 423.3,332.3 430.0,331.0 C436.7,329.7 443.3,328.3 450.0,326.9 C456.7,325.5 463.8,324.1 470.0,322.8 C476.2,321.5 481.6,320.3 487.0,319.0 C492.4,317.7 497.2,316.4 502.3,315.0 C507.4,313.6 512.1,312.1 517.4,310.5 C522.7,308.9 528.8,307.0 534.2,305.5 C539.6,304.0 546.2,302.2 550.0,301.3 C553.8,300.4 552.8,300.7 556.7,299.8 C560.6,298.9 567.8,297.1 573.3,295.7 C578.8,294.3 584.4,293.0 590.0,291.7 C595.6,290.4 601.2,289.2 606.7,287.7 C612.2,286.2 617.8,284.4 623.3,282.7 C628.8,281.0 634.0,279.4 640.0,277.3 C646.0,275.2 652.5,272.5 659.2,270.0 C665.9,267.5 674.9,264.4 680.0,262.5 C685.1,260.6 685.5,260.1 690.0,258.3 C694.5,256.5 701.2,254.0 706.7,251.7 C712.2,249.4 717.8,246.9 723.3,244.3 C728.8,241.7 734.4,238.8 740.0,236.0 C745.6,233.2 750.4,230.5 756.7,227.3 C763.0,224.1 774.2,218.5 777.7,216.7" fill="none" stroke="#ffa928" stroke-width="1.35" stroke-linejoin="round"/>
<path d="M0.0,364.1 C1.7,363.5 6.4,361.6 10.0,360.7 C13.6,359.8 19.0,358.7 21.8,358.4 C24.6,358.1 24.3,358.1 26.8,358.7 C29.3,359.2 33.0,360.8 36.9,361.7 C40.8,362.6 45.3,363.4 50.3,363.8 C55.3,364.2 61.5,364.2 67.1,364.1 C72.7,364.0 77.8,363.6 83.9,363.4 C90.1,363.2 98.4,363.3 104.0,362.9 C109.6,362.5 112.9,361.8 117.4,361.2 C121.9,360.6 124.9,359.9 130.9,359.6 C136.9,359.3 145.6,359.2 153.6,359.2 C161.6,359.2 171.7,359.5 178.7,359.8 C185.7,360.1 189.6,360.8 195.5,361.2 C201.4,361.6 208.7,362.2 214.0,362.5 C219.3,362.8 223.5,362.7 227.4,362.9 C231.3,363.1 234.1,363.3 237.4,363.7 C240.8,364.1 243.8,364.6 247.5,365.0 C251.2,365.4 256.2,365.9 259.3,365.9 C262.4,365.9 264.1,365.7 266.0,365.2 C267.9,364.7 269.2,363.9 271.0,363.0 C272.8,362.1 274.4,361.2 276.8,360.0 C279.2,358.8 282.4,357.1 285.2,355.8 C288.0,354.5 290.8,353.3 293.6,352.1 C296.4,350.9 299.1,349.7 301.9,348.5 C304.7,347.3 307.5,346.2 310.3,345.1 C313.1,344.0 315.9,343.1 318.7,342.1 C321.5,341.1 324.3,340.1 327.1,339.1 C329.9,338.1 332.7,337.1 335.5,336.2 C338.3,335.3 341.1,334.5 343.9,333.7 C346.7,332.9 349.5,332.0 352.3,331.2 C355.1,330.4 357.9,329.5 360.7,328.7 C363.5,327.9 366.3,326.9 369.1,326.1 C371.9,325.3 374.6,324.9 377.4,324.0 C380.2,323.1 383.0,321.7 385.8,320.6 C388.6,319.5 391.8,318.2 394.2,317.2 C396.6,316.2 397.6,315.7 400.0,314.6 C402.4,313.5 405.6,311.9 408.4,310.8 C411.2,309.7 414.0,308.9 416.8,308.0 C419.6,307.1 423.0,305.9 425.2,305.1 C427.4,304.3 428.2,304.1 430.2,303.0 C432.1,301.9 434.7,300.2 436.9,298.8 C439.1,297.4 441.4,295.9 443.6,294.6 C445.8,293.3 447.8,292.4 450.3,291.2 C452.8,290.0 455.9,288.6 458.7,287.3 C461.5,286.1 464.3,285.0 467.1,283.7 C469.9,282.4 472.7,281.0 475.5,279.5 C478.3,278.0 481.1,276.4 483.9,274.9 C486.7,273.4 489.5,271.9 492.3,270.6 C495.1,269.3 497.9,267.8 500.7,266.9 C503.5,265.9 506.3,265.5 509.1,264.9 C511.9,264.3 514.6,263.9 517.4,263.5 C520.2,263.1 523.0,262.7 525.8,262.3 C528.6,261.9 530.7,261.4 534.2,261.0 C537.7,260.6 541.9,260.3 546.8,259.6 C551.7,258.9 558.0,257.7 563.6,256.8 C569.2,255.9 575.8,254.8 580.3,254.1 C584.8,253.4 587.6,253.3 590.4,252.9 C593.2,252.5 594.6,252.2 597.1,251.7 C599.6,251.1 602.7,250.4 605.5,249.6 C608.3,248.8 611.1,247.7 613.9,247.0 C616.7,246.3 619.5,246.0 622.3,245.4 C625.1,244.8 627.9,244.2 630.7,243.4 C633.5,242.6 636.3,241.2 639.1,240.3 C641.9,239.4 644.7,238.7 647.5,237.8 C650.3,236.9 653.0,236.0 655.8,235.0 C658.6,234.0 661.4,232.7 664.2,231.9 C667.0,231.1 670.0,230.9 672.6,230.3 C675.2,229.7 677.1,229.3 680.0,228.3 C682.9,227.3 685.5,226.1 690.0,224.5 C694.5,222.9 701.2,220.4 706.7,218.5 C712.2,216.6 718.3,215.2 723.3,213.3 C728.3,211.4 733.2,209.3 736.7,207.3 C740.2,205.3 741.7,203.1 744.0,201.3 C746.3,199.5 748.5,198.1 750.7,196.3 C752.9,194.5 754.9,192.6 757.4,190.4 C759.9,188.2 763.0,185.3 765.8,182.9 C768.6,180.5 772.2,177.8 774.2,176.2 C776.2,174.6 777.0,173.8 777.6,173.3" fill="none" stroke="#3636ff" stroke-width="1.5" stroke-linejoin="round"/>
<path d="M0.0,346.7 C1.7,346.0 7.2,343.8 10.0,342.7 C12.8,341.6 15.0,341.0 17.1,340.1 C19.2,339.2 20.9,337.8 22.6,337.6 C24.3,337.4 25.4,337.9 27.2,339.1 C29.0,340.3 31.2,342.7 33.2,344.7 C35.2,346.7 37.3,349.0 39.3,351.2 C41.3,353.4 43.5,356.2 45.3,357.8 C47.1,359.4 48.8,359.9 50.3,360.8 C51.8,361.7 52.7,362.6 54.4,363.3 C56.1,364.1 57.7,364.6 60.4,365.3 C63.1,366.0 67.2,366.6 70.5,367.3 C73.8,368.0 76.6,368.5 80.5,369.6 C84.4,370.7 90.1,372.7 94.0,373.8 C97.9,374.9 100.4,375.6 104.0,376.3 C107.6,377.0 112.4,378.0 115.8,378.0 C119.2,378.0 121.4,378.1 124.2,376.3 C127.0,374.6 130.2,369.6 132.6,367.5 C135.0,365.4 136.1,364.4 138.5,363.4 C140.9,362.3 143.7,361.8 146.8,361.2 C149.9,360.6 153.0,360.3 156.9,360.0 C160.8,359.7 165.8,359.4 170.3,359.2 C174.8,359.0 179.9,358.8 183.8,358.7 C187.7,358.6 191.0,358.3 193.8,358.7 C196.6,359.1 198.0,360.5 200.5,361.2 C203.0,361.9 206.1,362.7 208.9,362.9 C211.7,363.1 214.2,362.6 217.3,362.3 C220.4,362.0 224.1,361.9 227.4,361.2 C230.8,360.5 234.3,359.1 237.4,358.3 C240.5,357.5 242.4,356.6 245.8,356.1 C249.2,355.6 253.8,356.0 257.6,355.3 C261.4,354.6 265.2,353.1 268.4,352.1 C271.6,351.1 274.6,350.1 276.8,349.1 C279.0,348.1 279.9,347.6 281.8,346.3 C283.8,345.0 286.5,342.9 288.5,341.2 C290.5,339.5 291.9,337.9 293.6,336.2 C295.3,334.5 296.9,332.9 298.6,331.2 C300.3,329.5 301.7,327.8 303.6,326.1 C305.6,324.4 307.8,322.9 310.3,321.1 C312.8,319.3 315.9,317.3 318.7,315.2 C321.5,313.1 324.3,310.7 327.1,308.5 C329.9,306.3 332.7,303.9 335.5,301.8 C338.3,299.7 341.1,297.7 343.9,295.9 C346.7,294.1 349.5,292.5 352.3,290.9 C355.1,289.3 357.9,287.6 360.7,286.4 C363.5,285.1 366.3,284.3 369.1,283.4 C371.9,282.5 374.6,281.7 377.4,281.2 C380.2,280.7 382.0,280.5 385.8,280.4 C389.6,280.2 395.9,280.5 400.0,280.3 C404.1,280.1 406.8,279.3 410.1,279.0 C413.5,278.7 417.3,278.5 420.1,278.3 C422.9,278.1 424.6,278.3 426.8,277.8 C429.1,277.3 431.1,276.4 433.6,275.3 C436.1,274.2 439.1,272.5 441.9,271.1 C444.7,269.7 447.5,268.2 450.3,266.9 C453.1,265.6 456.2,264.5 458.7,263.5 C461.2,262.5 463.4,262.0 465.4,261.0 C467.4,260.0 468.8,258.9 470.5,257.7 C472.2,256.4 473.8,254.9 475.5,253.5 C477.2,252.1 478.8,250.5 480.5,249.3 C482.2,248.1 483.6,247.3 485.6,246.4 C487.6,245.5 489.8,244.5 492.3,243.7 C494.8,242.9 497.9,242.2 500.7,241.7 C503.5,241.1 506.3,240.7 509.1,240.4 C511.9,240.1 514.6,239.6 517.4,239.7 C520.2,239.8 523.0,240.6 525.8,240.9 C528.6,241.2 530.7,241.8 534.2,241.8 C537.7,241.9 543.3,241.1 546.8,241.2 C550.3,241.3 552.4,241.9 555.2,242.3 C558.0,242.7 560.8,243.2 563.6,243.7 C566.4,244.2 569.1,244.8 571.9,245.4 C574.7,246.0 577.5,246.5 580.3,247.0 C583.1,247.5 585.9,248.2 588.7,248.4 C591.5,248.6 594.9,248.6 597.1,248.4 C599.3,248.2 600.1,247.8 602.1,247.0 C604.1,246.2 606.4,244.8 608.9,243.7 C611.4,242.6 614.7,241.5 617.2,240.7 C619.7,239.9 621.8,239.5 624.0,238.7 C626.2,237.9 628.2,237.1 630.7,236.1 C633.2,235.1 636.6,233.8 639.1,232.8 C641.6,231.8 643.8,231.4 645.8,230.3 C647.8,229.2 648.8,227.7 650.8,226.1 C652.8,224.5 655.3,222.6 657.5,221.0 C659.7,219.4 661.7,218.5 664.2,216.8 C666.7,215.1 670.0,212.9 672.6,211.0 C675.2,209.1 677.0,207.7 680.0,205.4 C683.0,203.1 687.2,199.7 690.3,197.1 C693.4,194.5 695.9,192.0 698.7,189.6 C701.5,187.2 704.3,185.0 707.1,182.9 C709.9,180.8 712.7,179.2 715.5,177.0 C718.3,174.8 721.1,172.2 723.9,169.5 C726.7,166.8 730.1,163.2 732.3,161.1 C734.5,159.0 735.6,158.4 737.3,156.9 C739.0,155.4 740.3,154.0 742.3,151.8 C744.3,149.6 747.1,146.0 749.1,143.5 C751.1,141.0 752.4,138.9 754.1,136.7 C755.8,134.5 757.2,133.1 759.1,130.5 C761.0,127.9 763.0,124.6 765.5,121.2 C768.0,117.8 771.9,112.9 773.9,110.3 C775.9,107.7 777.0,106.4 777.6,105.6" fill="none" stroke="#2a962a" stroke-width="1.4" stroke-linejoin="round"/>
<line x1="36.4" y1="456.8" x2="835.8" y2="168.9" stroke="#080808" stroke-width="2.4" stroke-linecap="butt"/>
<rect x="875.6" y="0" width="2.2" height="468.5" fill="#808080"/>
<rect x="0" y="466.9" width="877.8" height="1.45" fill="#808080"/>
<rect x="0" y="64.8" width="878.7" height="3.1" fill="#ff0000"/>
<rect x="0" y="86.9" width="878.7" height="3.1" fill="#ff0000"/>
<line x1="646.5" y1="341" x2="677.5" y2="341" stroke="#1e8c1e" stroke-width="2.2"/>
<line x1="646.5" y1="359.2" x2="677.5" y2="359.2" stroke="#3a3aff" stroke-width="2.2"/>
<line x1="646.5" y1="374.8" x2="677.5" y2="374.8" stroke="#ffa928" stroke-width="1.8"/>
<g font-size="5.6" fill="#3a4250">
<rect x="877.7" y="466.1" width="1.6" height="1" fill="#555"/><text x="880" y="468.2">27.830</text>
<rect x="877.7" y="447.9" width="1.6" height="1" fill="#555"/><text x="880" y="450.0">28.650</text>
<rect x="877.7" y="430.1" width="1.6" height="1" fill="#555"/><text x="880" y="432.2">29.450</text>
<rect x="877.7" y="412.4" width="1.6" height="1" fill="#555"/><text x="880" y="414.5">30.270</text>
<rect x="877.7" y="394.5" width="1.6" height="1" fill="#555"/><text x="880" y="396.6">31.070</text>
<rect x="877.7" y="376.7" width="1.6" height="1" fill="#555"/><text x="880" y="378.8">31.890</text>
<rect x="877.7" y="358.8" width="1.6" height="1" fill="#555"/><text x="880" y="360.9">32.710</text>
<rect x="877.7" y="341.0" width="1.6" height="1" fill="#555"/><text x="880" y="343.1">33.510</text>
<rect x="877.7" y="323.0" width="1.6" height="1" fill="#555"/><text x="880" y="325.1">34.330</text>
<rect x="877.7" y="305.3" width="1.6" height="1" fill="#555"/><text x="880" y="307.4">35.150</text>
<rect x="877.7" y="287.2" width="1.6" height="1" fill="#555"/><text x="880" y="289.3">35.950</text>
<rect x="877.7" y="269.4" width="1.6" height="1" fill="#555"/><text x="880" y="271.5">36.770</text>
<rect x="877.7" y="251.3" width="1.6" height="1" fill="#555"/><text x="880" y="253.4">37.590</text>
<rect x="877.7" y="233.6" width="1.6" height="1" fill="#555"/><text x="880" y="235.7">38.390</text>
<rect x="877.7" y="215.5" width="1.6" height="1" fill="#555"/><text x="880" y="217.6">39.210</text>
<rect x="877.7" y="197.8" width="1.6" height="1" fill="#555"/><text x="880" y="199.9">40.010</text>
<rect x="877.7" y="179.8" width="1.6" height="1" fill="#555"/><text x="880" y="181.9">40.830</text>
<rect x="877.7" y="161.9" width="1.6" height="1" fill="#555"/><text x="880" y="164.0">41.650</text>
<rect x="877.7" y="144.2" width="1.6" height="1" fill="#555"/><text x="880" y="146.3">42.450</text>
<rect x="877.7" y="126.3" width="1.6" height="1" fill="#555"/><text x="880" y="128.4">43.270</text>
<rect x="877.7" y="108.6" width="1.6" height="1" fill="#555"/><text x="880" y="110.7">44.090</text>
<rect x="877.7" y="90.8" width="1.6" height="1" fill="#555"/><text x="880" y="92.9">44.890</text>
<rect x="877.7" y="72.7" width="1.6" height="1" fill="#555"/><text x="880" y="74.8">45.710</text>
<rect x="877.7" y="54.4" width="1.6" height="1" fill="#555"/><text x="880" y="56.5">46.510</text>
<rect x="877.7" y="36.3" width="1.6" height="1" fill="#555"/><text x="880" y="38.4">47.330</text>
<rect x="877.7" y="18.6" width="1.6" height="1" fill="#555"/><text x="880" y="20.7">48.150</text>
<rect x="877.7" y="0.6" width="1.6" height="1" fill="#555"/><text x="880" y="2.7">48.960</text>
</g>
<rect x="878" y="33" width="21.5" height="5.8" fill="#101010"/><text x="880" y="37.9" font-size="5.6" fill="#fff">47.288</text>
<rect x="877.5" y="63" width="22.3" height="5.8" fill="#ff0000"/><text x="880" y="67.8" font-size="5.6" fill="#fff">46.000</text>
<rect x="877.5" y="85.3" width="22.3" height="5.8" fill="#ff0000"/><text x="880" y="90.1" font-size="5.6" fill="#fff">45.000</text>
<g font-size="5.8" fill="#343c4a">
<rect x="-7.35" y="467.6" width="1" height="2.2" fill="#555"/><text x="-9.45" y="475.3">26 Mar 2025</text>
<rect x="31.15" y="467.6" width="1" height="2.2" fill="#555"/><text x="31.35" y="475.3">4 Apr 2025</text>
<rect x="69.65" y="467.6" width="1" height="2.2" fill="#555"/><text x="69.85" y="475.3">14 Apr 2025</text>
<rect x="108.15" y="467.6" width="1" height="2.2" fill="#555"/><text x="108.35" y="475.3">24 Apr 2025</text>
<rect x="146.65" y="467.6" width="1" height="2.2" fill="#555"/><text x="146.85" y="475.3">4 May 2025</text>
<rect x="185.15" y="467.6" width="1" height="2.2" fill="#555"/><text x="185.35" y="475.3">13 May 2025</text>
<rect x="223.65" y="467.6" width="1" height="2.2" fill="#555"/><text x="223.85" y="475.3">22 May 2025</text>
<rect x="262.15" y="467.6" width="1" height="2.2" fill="#555"/><text x="262.35" y="475.3">1 Jun 2025</text>
<rect x="300.65" y="467.6" width="1" height="2.2" fill="#555"/><text x="300.85" y="475.3">10 Jun 2025</text>
<rect x="339.15" y="467.6" width="1" height="2.2" fill="#555"/><text x="339.35" y="475.3">19 Jun 2025</text>
<rect x="377.65" y="467.6" width="1" height="2.2" fill="#555"/><text x="377.85" y="475.3">29 Jun 2025</text>
<rect x="416.15" y="467.6" width="1" height="2.2" fill="#555"/><text x="416.35" y="475.3">9 Jul 2025</text>
<rect x="454.65" y="467.6" width="1" height="2.2" fill="#555"/><text x="454.85" y="475.3">17 Jul 2025</text>
<rect x="493.15" y="467.6" width="1" height="2.2" fill="#555"/><text x="493.35" y="475.3">27 Jul 2025</text>
<rect x="531.65" y="467.6" width="1" height="2.2" fill="#555"/><text x="531.85" y="475.3">5 Aug 2025</text>
<rect x="570.15" y="467.6" width="1" height="2.2" fill="#555"/><text x="570.35" y="475.3">14 Aug 2025</text>
<rect x="608.65" y="467.6" width="1" height="2.2" fill="#555"/><text x="608.85" y="475.3">24 Aug 2025</text>
<rect x="647.15" y="467.6" width="1" height="2.2" fill="#555"/><text x="647.35" y="475.3">2 Sep 2025</text>
<rect x="685.65" y="467.6" width="1" height="2.2" fill="#555"/><text x="685.85" y="475.3">11 Sep 2025</text>
<rect x="724.15" y="467.6" width="1" height="2.2" fill="#555"/><text x="724.35" y="475.3">21 Sep 2025</text>
<rect x="762.65" y="467.6" width="1" height="2.2" fill="#555"/><text x="762.85" y="475.3">30 Sep 2025</text>
</g>
<text x="3" y="5.2" font-size="5.6" fill="#2a3040">SILVER,Daily&#160;&#160;46.934 47.299 46.612 47.288</text>
<text x="553.6" y="82" font-size="13.6" fill="#2e2e2e" stroke="#2e2e2e" stroke-width="0.3" textLength="111" lengthAdjust="spacingAndGlyphs">SUPPORT AREA</text>
<text x="699.3" y="345.4" font-size="13.2" fill="#2a962a" stroke="#2a962a" stroke-width="0.25" textLength="156" lengthAdjust="spacingAndGlyphs">20- Day Moving Average</text>
<text x="699.8" y="363.3" font-size="13.2" fill="#3a3aff" stroke="#3a3aff" stroke-width="0.25" textLength="155.5" lengthAdjust="spacingAndGlyphs">50- Day Moving Average</text>
<text x="696.7" y="380.5" font-size="13.2" fill="#ffa028" stroke="#ffa028" stroke-width="0.25" textLength="162.6" lengthAdjust="spacingAndGlyphs">100- Day Moving Average</text>
</g>
</svg>
</body></html>
